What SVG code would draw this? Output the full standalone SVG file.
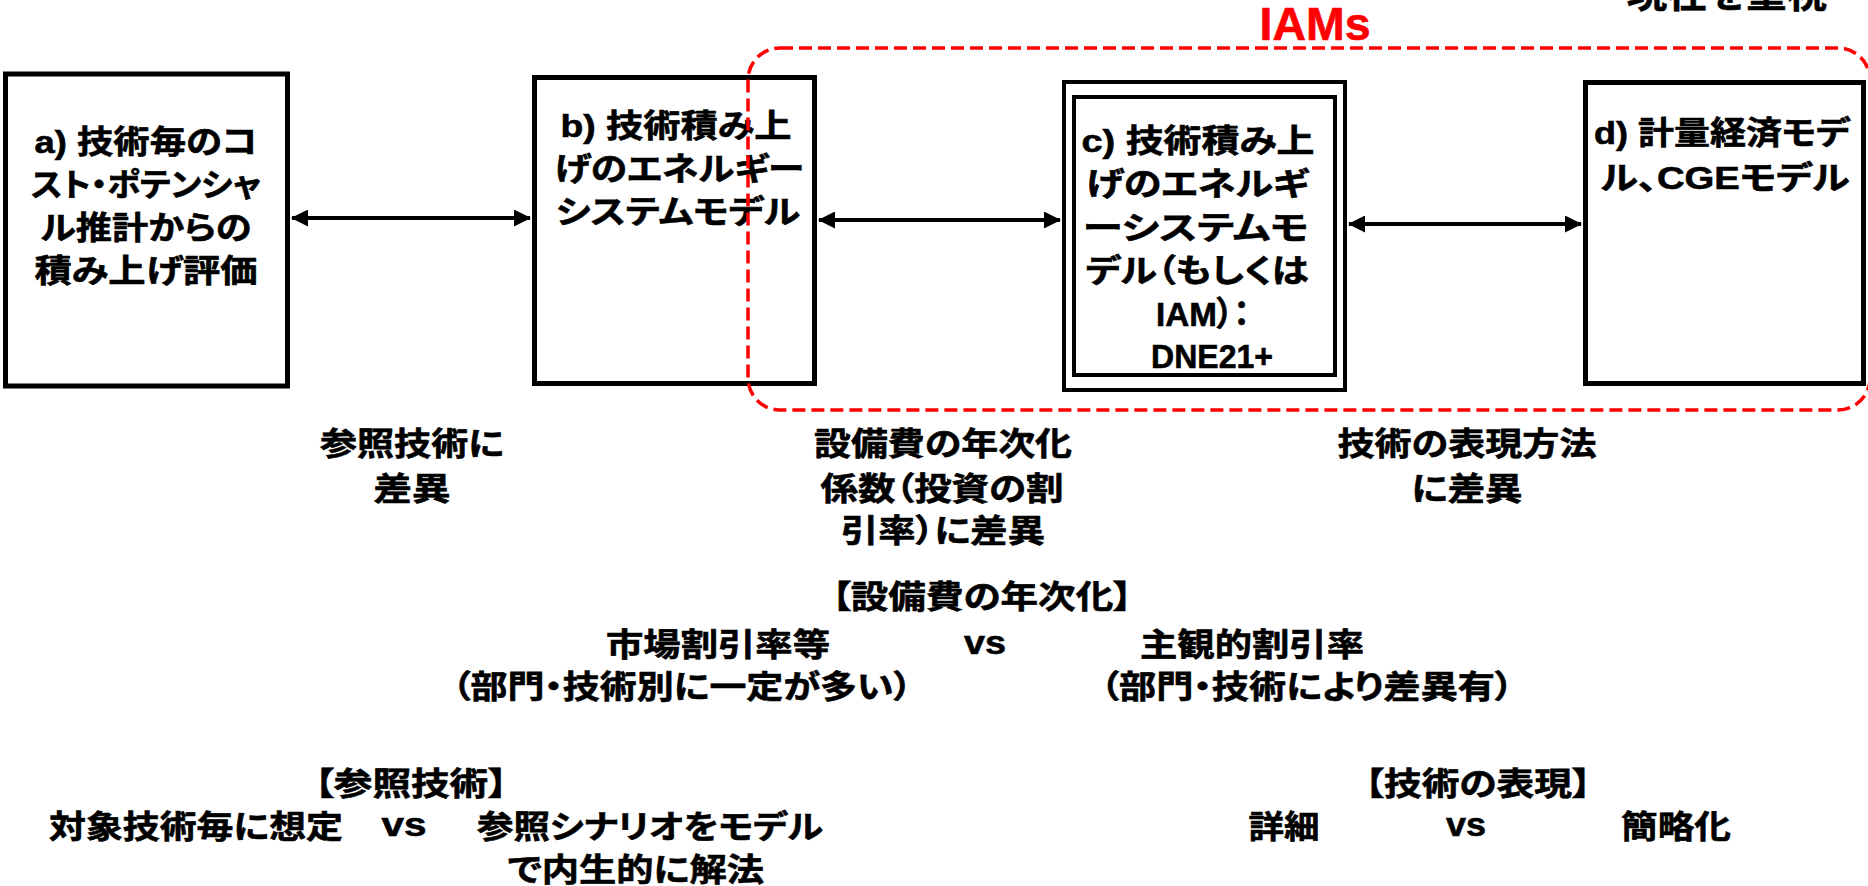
<svg xmlns="http://www.w3.org/2000/svg" width="1868" height="886" viewBox="0 0 1868 886">
<style>
.t{font-family:"Liberation Sans","Noto Sans CJK JP",sans-serif;font-weight:700;font-size:32px;fill:#000;stroke:#000;stroke-width:0.6;text-anchor:middle;font-feature-settings:"palt";}
.box{fill:#fff;stroke:#000;stroke-width:5;}
.box2{fill:none;stroke:#000;stroke-width:4;}
.conn{stroke:#000;stroke-width:4;fill:none;marker-start:url(#ah);marker-end:url(#ah);}
.iam{fill:none;stroke:#ff0000;stroke-width:3.5;stroke-dasharray:13 6;}
</style>
<defs>
<marker id="ah" viewBox="0 0 17 17" refX="16" refY="8.5" markerWidth="17" markerHeight="17" markerUnits="userSpaceOnUse" orient="auto-start-reverse">
<path d="M0,0 L17,8.5 L0,17 Z" fill="#000"/>
</marker>
</defs>
<rect width="1868" height="886" fill="#fff"/>

<g id="note-top">
<text class="t" x="1727" y="7" style="font-size:38px" textLength="200" lengthAdjust="spacingAndGlyphs">現在を重視</text>
</g>

<g id="node-a">
<rect class="box" x="5.5" y="74" width="282" height="312"/>
<text class="t" x="146" y="153" textLength="223" lengthAdjust="spacingAndGlyphs">a) 技術毎のコ</text>
<text class="t" x="146" y="196" textLength="230" lengthAdjust="spacingAndGlyphs">スト・ポテンシャ</text>
<text class="t" x="146" y="239" textLength="211" lengthAdjust="spacingAndGlyphs">ル推計からの</text>
<text class="t" x="146" y="282" textLength="223" lengthAdjust="spacingAndGlyphs">積み上げ評価</text>
</g>

<g id="node-b">
<rect class="box" x="534.5" y="77.5" width="280" height="306"/>
<text class="t" x="676" y="137" textLength="231" lengthAdjust="spacingAndGlyphs">b) 技術積み上</text>
<text class="t" x="679" y="180" textLength="250" lengthAdjust="spacingAndGlyphs">げのエネルギー</text>
<text class="t" x="678" y="223" textLength="244" lengthAdjust="spacingAndGlyphs">システムモデル</text>
</g>

<g id="node-c">
<rect class="box2" x="1064" y="82" width="281" height="308" fill="#fff"/>
<rect class="box2" x="1074" y="97" width="261" height="278"/>
<text class="t" x="1198" y="152" textLength="233" lengthAdjust="spacingAndGlyphs">c) 技術積み上</text>
<text class="t" x="1197" y="195" textLength="223" lengthAdjust="spacingAndGlyphs">げのエネルギ</text>
<text class="t" x="1196" y="239" textLength="225" lengthAdjust="spacingAndGlyphs">ーシステムモ</text>
<text class="t" x="1197" y="282" textLength="223" lengthAdjust="spacingAndGlyphs">デル（もしくは</text>
<text class="t" x="1203" y="326" style="font-size:34px" textLength="94" lengthAdjust="spacingAndGlyphs">IAM）：</text>
<text class="t" x="1212" y="368" style="font-size:34px" textLength="122" lengthAdjust="spacingAndGlyphs">DNE21+</text>
</g>

<g id="node-d">
<rect class="box" x="1585.5" y="82.5" width="278" height="301"/>
<text class="t" x="1722" y="144" textLength="256" lengthAdjust="spacingAndGlyphs">d) 計量経済モデ</text>
<text class="t" x="1725" y="189" textLength="249" lengthAdjust="spacingAndGlyphs">ル、CGEモデル</text>
</g>

<g id="group-iams">
<rect class="iam" x="748" y="48" width="1122" height="362" rx="32" ry="32"/>
<text class="t" x="1315" y="40" style="font-size:46px;fill:#ff0000;stroke:#ff0000" textLength="111" lengthAdjust="spacingAndGlyphs">IAMs</text>
</g>

<g id="connectors">
<line class="conn" x1="292" y1="218" x2="530" y2="218"/>
<line class="conn" x1="819" y1="220" x2="1060" y2="220"/>
<line class="conn" x1="1349" y1="224" x2="1581" y2="224"/>
</g>

<g id="label-ab">
<text class="t" x="412" y="455" textLength="184" lengthAdjust="spacingAndGlyphs">参照技術に</text>
<text class="t" x="412" y="500" textLength="77" lengthAdjust="spacingAndGlyphs">差異</text>
</g>

<g id="label-bc">
<text class="t" x="943" y="455" textLength="258" lengthAdjust="spacingAndGlyphs">設備費の年次化</text>
<text class="t" x="942" y="500" textLength="243" lengthAdjust="spacingAndGlyphs">係数（投資の割</text>
<text class="t" x="943" y="542" textLength="204" lengthAdjust="spacingAndGlyphs">引率）に差異</text>
</g>

<g id="label-cd">
<text class="t" x="1467" y="455" textLength="259" lengthAdjust="spacingAndGlyphs">技術の表現方法</text>
<text class="t" x="1467" y="500" textLength="111" lengthAdjust="spacingAndGlyphs">に差異</text>
</g>

<g id="note-annualization">
<text class="t" x="982" y="608" textLength="300" lengthAdjust="spacingAndGlyphs">【設備費の年次化】</text>
<text class="t" x="718" y="656" textLength="224" lengthAdjust="spacingAndGlyphs">市場割引率等</text>
<text class="t" x="985" y="654" style="font-size:34px" textLength="42" lengthAdjust="spacingAndGlyphs">vs</text>
<text class="t" x="1252" y="656" textLength="224" lengthAdjust="spacingAndGlyphs">主観的割引率</text>
<text class="t" x="682" y="698" textLength="460" lengthAdjust="spacingAndGlyphs">（部門・技術別に一定が多い）</text>
<text class="t" x="1307" y="698" textLength="413" lengthAdjust="spacingAndGlyphs">（部門・技術により差異有）</text>
</g>

<g id="note-reference">
<text class="t" x="411" y="795" textLength="193" lengthAdjust="spacingAndGlyphs">【参照技術】</text>
<text class="t" x="196" y="838" textLength="294" lengthAdjust="spacingAndGlyphs">対象技術毎に想定</text>
<text class="t" x="404" y="836" style="font-size:34px" textLength="45" lengthAdjust="spacingAndGlyphs">vs</text>
<text class="t" x="650" y="838" textLength="346" lengthAdjust="spacingAndGlyphs">参照シナリオをモデル</text>
<text class="t" x="636" y="881" textLength="256" lengthAdjust="spacingAndGlyphs">で内生的に解法</text>
</g>

<g id="note-representation">
<text class="t" x="1478" y="795" textLength="226" lengthAdjust="spacingAndGlyphs">【技術の表現】</text>
<text class="t" x="1284" y="838" textLength="71" lengthAdjust="spacingAndGlyphs">詳細</text>
<text class="t" x="1466" y="836" style="font-size:34px" textLength="40" lengthAdjust="spacingAndGlyphs">vs</text>
<text class="t" x="1676" y="838" textLength="110" lengthAdjust="spacingAndGlyphs">簡略化</text>
</g>
</svg>
